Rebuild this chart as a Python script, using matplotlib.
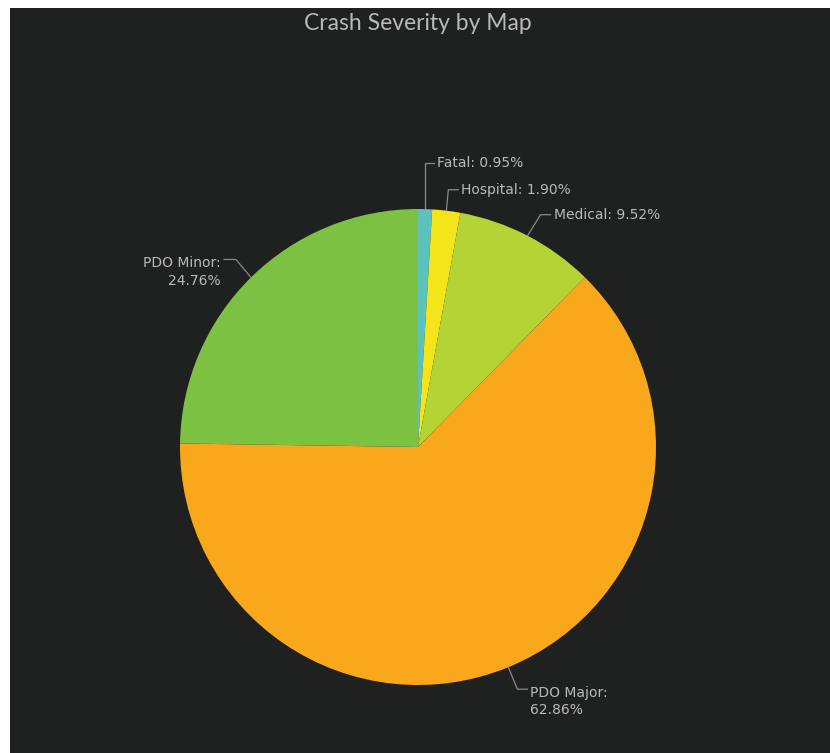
import numpy as np
import matplotlib
matplotlib.use("Agg")
import matplotlib.pyplot as plt
from matplotlib.patches import Rectangle

# data
labels = ["Fatal", "Hospital", "Medical", "PDO Major", "PDO Minor"]
shares = [0.95, 1.90, 9.52, 62.86, 24.76]
colors = ["#5cc2bd", "#f4e51a", "#b4d335", "#f9a81b", "#7dc143"]

W, H = 830, 753
BG = "#1f2120"
TXT = "#b9b9b9"
LINE = "#8a8a8a"

fig = plt.figure(figsize=(W / 100, H / 100), dpi=100)
fig.patch.set_facecolor("white")
ax = fig.add_axes([0, 0, 1, 1])

# dark panel (white strip on the top and left edge)
ax.add_patch(Rectangle((10, 0), W - 10, H - 8, facecolor=BG, edgecolor="none", zorder=0))

cx, cy, R = 418, H - 447, 238
wedges, _ = ax.pie(shares, colors=colors, startangle=90, counterclock=False,
                   center=(cx, cy), radius=R, frame=True,
                   wedgeprops=dict(linewidth=0))
ax.set_xlim(0, W)
ax.set_ylim(0, H)
ax.set_aspect("equal")
ax.axis("off")

# elbow (dx, dy from edge point), horizontal length, text side
elbows = {
    "Fatal": ((0, 46), 9, "left"),
    "Hospital": ((2, 21), 10, "left"),
    "Medical": ((13, 21), 10, "left"),
    "PDO Major": ((9, -22), 10, "left"),
    "PDO Minor": ((-15, 18), -12, "right"),
}

for w, lab, val in zip(wedges, labels, shares):
    mid = np.deg2rad((w.theta1 + w.theta2) / 2)
    x0 = cx + R * np.cos(mid)
    y0 = cy + R * np.sin(mid)
    (dx, dy), hl, side = elbows[lab]
    x1, y1 = x0 + dx, y0 + dy
    x2 = x1 + hl
    ax.plot([x0, x1, x2], [y0, y1, y1], color=LINE, lw=0.9, zorder=3)
    if lab.startswith("PDO"):
        txt = f"{lab}:\n{val:.2f}%"
        va = "top"
        ty = y1 + 3
    else:
        txt = f"{lab}: {val:.2f}%"
        va = "center"
        ty = y1
    tx = x2 + 3 if side == "left" else x2 - 3
    ax.text(tx, ty, txt, color=TXT, fontsize=10, ha=side, va=va,
            family="DejaVu Sans", linespacing=1.3, multialignment=side)

ax.text(418, H - 23, "Crash Severity by Map", color=TXT, fontsize=16.5,
        family="Lato", ha="center", va="center")

fig.savefig("out.png", dpi=100, facecolor=fig.get_facecolor())
